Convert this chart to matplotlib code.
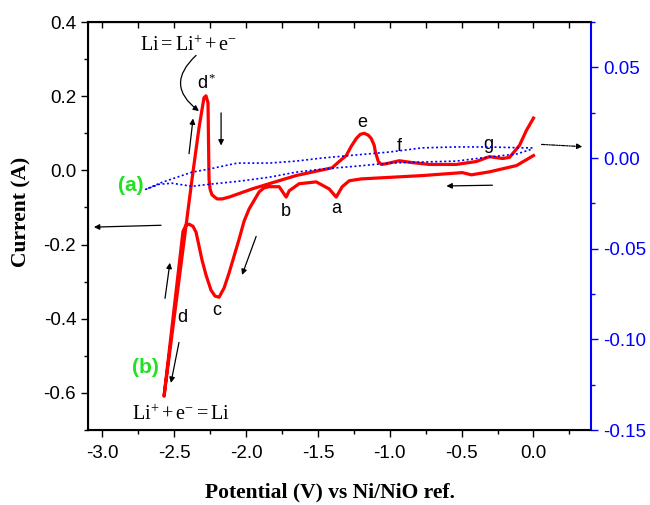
import numpy as np
import matplotlib
matplotlib.use("Agg")
import matplotlib.pyplot as plt
from matplotlib.ticker import MultipleLocator, FormatStrFormatter

plt.rcParams['font.family'] = ['Liberation Sans', 'DejaVu Sans']
plt.rcParams['axes.unicode_minus'] = False
plt.rcParams['mathtext.fontset'] = 'custom'
plt.rcParams['mathtext.rm'] = 'Liberation Serif'
plt.rcParams['mathtext.it'] = 'Liberation Serif:italic'

# curve (b): red CV, left axis (A)
red_v = [0.0, -0.118, -0.307, -0.432, -0.495, -0.774, -1.199, -1.282, -1.331, -1.373,
         -1.422, -1.512, -1.631, -1.700, -1.721, -1.770, -1.840, -1.875, -1.909, -1.979,
         -2.014, -2.049, -2.118, -2.153, -2.188, -2.216, -2.244, -2.279, -2.307, -2.348,
         -2.369, -2.397, -2.418, -2.439, -2.571,
         -2.376, -2.328, -2.293, -2.279, -2.265, -2.258, -2.251, -2.237, -2.202, -2.167,
         -2.118, -1.958, -1.840, -1.652, -1.401, -1.352, -1.303, -1.268, -1.233, -1.206,
         -1.178, -1.150, -1.129, -1.108, -1.101, -1.080, -1.059,
         -1.024, -0.934, -0.843, -0.725, -0.537, -0.397, -0.307, -0.216, -0.167, -0.098,
         -0.049, 0.0]
red_i = [0.040, 0.013, -0.004, -0.012, -0.006, -0.014, -0.023, -0.028, -0.044, -0.072,
         -0.050, -0.031, -0.036, -0.055, -0.072, -0.044, -0.044, -0.047, -0.058, -0.104,
         -0.137, -0.186, -0.276, -0.317, -0.342, -0.339, -0.323, -0.282, -0.241, -0.167,
         -0.151, -0.145, -0.148, -0.164, -0.609,
         -0.023, 0.114, 0.196, 0.201, 0.182, -0.023, -0.050, -0.066, -0.077, -0.077,
         -0.072, -0.050, -0.036, -0.014, 0.007, 0.024, 0.040, 0.065, 0.086, 0.097,
         0.100, 0.095, 0.086, 0.067, 0.051, 0.024, 0.016,
         0.018, 0.026, 0.021, 0.016, 0.016, 0.024, 0.037, 0.032, 0.035, 0.067,
         0.108, 0.141]

# curve (a): blue dotted CV, right axis (A)
blue_v = [-0.007, -0.077, -0.307, -0.537, -0.774, -1.003, -1.233, -1.470, -1.652, -1.840,
          -2.063, -2.258, -2.376, -2.481, -2.585, -2.699,
          -2.606, -2.516, -2.376, -2.258, -2.049, -1.840, -1.652, -1.470, -1.233, -1.003,
          -0.774, -0.537, -0.307, -0.118, -0.007]
blue_i = [0.0056, 0.0056, 0.0061, 0.0061, 0.0056, 0.0033, 0.0017, 0.0, -0.0017, -0.0028,
          -0.0028, -0.0061, -0.0078, -0.0106, -0.0134, -0.0173,
          -0.0145, -0.0139, -0.0156, -0.0145, -0.0128, -0.0106, -0.0078, -0.0061, -0.0045, -0.0028,
          -0.0022, -0.0017, 0.0006, 0.0022, 0.0050]

peak_labels = ['d$^*$', 'd', 'c', 'b', 'a', 'e', 'f', 'g']
peak_x = [-2.272, -2.446, -2.202, -1.721, -1.373, -1.192, -0.934, -0.314]
peak_y = [0.236, -0.397, -0.377, -0.110, -0.104, 0.130, 0.064, 0.070]

fig = plt.figure(figsize=(6.5, 5.05), dpi=100)
ax = fig.add_axes([0.1354, 0.1485, 0.7738, 0.8079])
ax2 = ax.twinx()

ax.plot(red_v, red_i, color='red', lw=2.3, zorder=3, solid_joinstyle='round')
ax2.plot(blue_v, blue_i, color='blue', lw=1.2, ls=(0, (1.2, 1.5)))

ax.set_xlim(-3.1, 0.4)
ax.set_ylim(-0.7, 0.4)
ax2.set_ylim(-0.15, 0.075)

ax.xaxis.set_major_locator(MultipleLocator(0.5))
ax.xaxis.set_minor_locator(MultipleLocator(0.25))
ax.xaxis.set_major_formatter(FormatStrFormatter('%.1f'))
ax.yaxis.set_major_locator(MultipleLocator(0.2))
ax.yaxis.set_minor_locator(MultipleLocator(0.1))
ax.yaxis.set_major_formatter(FormatStrFormatter('%.1f'))
ax.tick_params(which='major', direction='out', length=5, width=1, labelsize=13.5)
ax.tick_params(axis='x', which='major', pad=6)
ax.tick_params(which='minor', direction='out', length=3, width=1)

top = ax.secondary_xaxis('top')
top.set_xticks(np.arange(-3.0, 0.3, 0.25))
top.tick_params(direction='in', length=4, width=1, labeltop=False)

ax2.yaxis.set_major_locator(MultipleLocator(0.05))
ax2.yaxis.set_minor_locator(MultipleLocator(0.025))
ax2.yaxis.set_major_formatter(FormatStrFormatter('%.2f'))
ax2.tick_params(which='major', direction='out', length=5, width=1, colors='blue', labelsize=13.5)
ax2.tick_params(which='minor', direction='out', length=3, width=1, colors='blue')
ax2.spines['right'].set_color('blue')
ax2.spines['right'].set_linewidth(1.5)
for s in ['left', 'bottom', 'top']:
    ax.spines[s].set_linewidth(1.5)
ax.spines['right'].set_visible(False)

ax.set_xlabel('Potential (V) vs Ni/NiO ref.', family='Liberation Serif', weight='bold', fontsize=15.5)
ax.set_ylabel('Current (A)', family='Liberation Serif', weight='bold', fontsize=15.5)
ax.xaxis.set_label_coords(0.481, -0.128)
ax.yaxis.set_label_coords(-0.113, 0.534)

for lab, x, y in zip(peak_labels, peak_x, peak_y):
    ax.text(x, y, lab, ha='center', va='center', fontsize=13)

green = '#22e022'
ax.text(-2.801, -0.042, '(a)', color=green, weight='bold', fontsize=15, ha='center', va='center')
ax.text(-2.697, -0.532, '(b)', color=green, weight='bold', fontsize=15, ha='center', va='center')

ax.text(-2.397, 0.337, r'$\mathrm{Li = Li^{+} + e^{-}}$', fontsize=14.5, ha='center', va='center')
ax.text(-2.453, -0.658, r'$\mathrm{Li^{+} + e^{-} = Li}$', fontsize=14.5, ha='center', va='center')

arrow = dict(arrowstyle='-|>', color='black', lw=0.9, mutation_scale=8, shrinkA=0, shrinkB=0)
ax.annotate('', xy=(-2.328, 0.160), xytext=(-2.348, 0.310),
            arrowprops=dict(arrow, connectionstyle='arc3,rad=0.6'))
arrows = [((-2.397, 0.045), (-2.369, 0.14)),
          ((-2.174, 0.155), (-2.174, 0.067)),
          ((-2.592, -0.148), (-3.059, -0.153)),
          ((-2.564, -0.345), (-2.530, -0.249)),
          ((-2.467, -0.464), (-2.523, -0.573)),
          ((-1.930, -0.178), (-2.028, -0.282)),
          ((-0.286, -0.040), (-0.606, -0.042))]
for tail, head in arrows:
    ax.annotate('', xy=head, xytext=tail, arrowprops=arrow)
ax.annotate('', xy=(0.341, 0.064), xytext=(0.056, 0.070),
            arrowprops=dict(arrow, linestyle=(0, (3, 1, 1, 1, 1, 1))))

fig.savefig('out.png', dpi=100)
